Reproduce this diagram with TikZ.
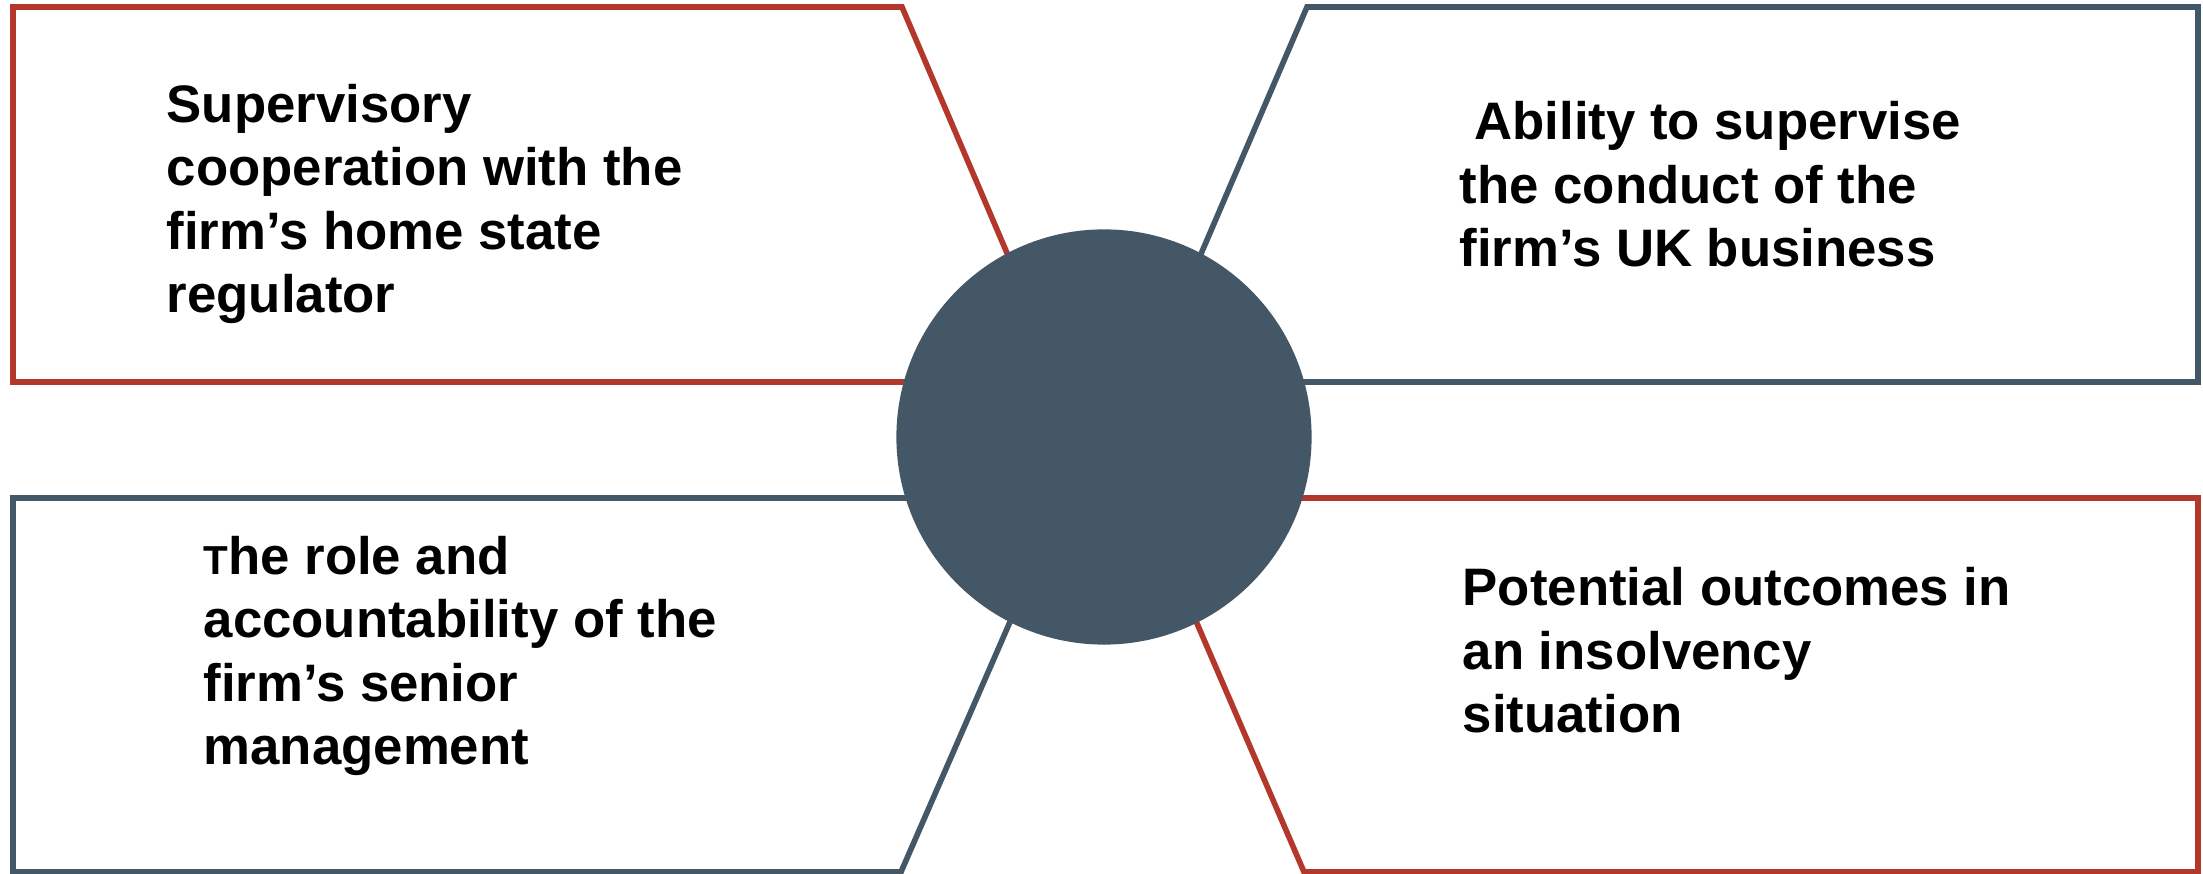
\documentclass[tikz,border=0pt]{standalone}
\usepackage{fontspec}
\setmainfont{Liberation Sans}
\usepackage{tikz}
\usetikzlibrary{positioning, calc}
\usepackage{xcolor}
\definecolor{slate}{HTML}{435766}
\definecolor{brickred}{HTML}{B3372B}

\begin{document}
\begin{tikzpicture}[x=0.01cm, y=-0.01cm,
    panel/.style={line width=1.6pt, line join=miter, fill=white},
    label/.style={anchor=base west, inner sep=0pt, align=left,
      font=\fontsize{15}{18.1}\selectfont\bfseries}]
  \useasboundingbox (0,0) rectangle (2203,874);
  % vier Felder, die Spitzen liegen unter dem Kreis
  \draw[panel, draw=brickred] (13,7)--(902,7)--(1062,382)--(13,382)--cycle;
  \draw[panel, draw=slate] (2198,7)--(1307,7)--(1146,382)--(2198,382)--cycle;
  \draw[panel, draw=slate] (13,498)--(1064,498)--(901,872)--(13,872)--cycle;
  \draw[panel, draw=brickred] (2198,498)--(1143,498)--(1304,872)--(2198,872)--cycle;
  % Kreis in der Mitte
  \node[circle, fill=slate, inner sep=0pt, minimum size=4.15cm] (hub) at (1104,437) {};
  % Texte (base = letzte Zeile)
  \node[label] (regulator) at (166,313)
    {Supervisory\\cooperation with the\\firm’s home state\\regulator};
  \node[label] (conduct) at (1459,267)
    {\ Ability to supervise\\the conduct of the\\firm’s UK business};
  \node[label] (management) at (203,765)
    {{\fontsize{11.5}{18.1}\selectfont T}he role and\\accountability of the\\firm’s senior\\management};
  \node[label] (insolvency) at (1462,733)
    {Potential outcomes in\\an insolvency\\situation};
\end{tikzpicture}
\end{document}
